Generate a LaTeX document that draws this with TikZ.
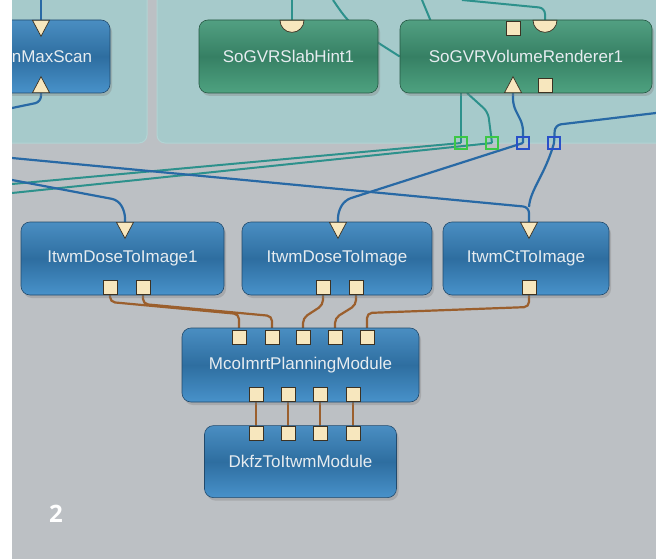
\documentclass[tikz,border=0pt]{standalone}
\usepackage{fontspec}
\setmainfont{Liberation Sans}
\newfontfamily\numfont{Open Sans}
\usetikzlibrary{shapes.geometric, shadows, positioning}
\pgfdeclarelayer{panels}
\pgfdeclarelayer{wires}
\pgfsetlayers{panels,wires,main}
\definecolor{bgray}{RGB}{188,192,196}
\definecolor{panel}{RGB}{166,202,203}
\definecolor{paneledge}{RGB}{178,212,212}
\definecolor{bluetop}{RGB}{74,142,194}
\definecolor{bluemid}{RGB}{46,110,160}
\definecolor{bluebot}{RGB}{72,146,202}
\definecolor{blueedge}{RGB}{34,74,108}
\definecolor{greentop}{RGB}{82,160,130}
\definecolor{greenmid}{RGB}{54,128,100}
\definecolor{greenbot}{RGB}{78,162,128}
\definecolor{greenedge}{RGB}{38,88,68}
\definecolor{modtext}{RGB}{230,236,240}
\definecolor{portfill}{RGB}{247,231,190}
\definecolor{portedge}{RGB}{60,50,35}
\definecolor{wirebrown}{RGB}{155,95,45}
\definecolor{wireblue}{RGB}{40,105,165}
\definecolor{wireteal}{RGB}{45,145,140}
\definecolor{tapgreen}{RGB}{60,200,70}
\definecolor{tapblue}{RGB}{40,80,200}

\begin{document}
\begin{tikzpicture}[
    x=1pt, y=-1pt,
    module/.style={rectangle, rounded corners=9pt, line width=0.6pt,
                   minimum height=73pt, inner sep=0pt, text=modtext,
                   font=\fontsize{17}{20}\selectfont,
                   drop shadow={shadow xshift=2pt, shadow yshift=-3pt, opacity=0.35}},
    bluemod/.style={module, draw=blueedge, top color=bluetop,
                    bottom color=bluebot, middle color=bluemid},
    greenmod/.style={module, draw=greenedge, top color=greentop,
                     bottom color=greenbot, middle color=greenmid},
    sqport/.style={rectangle, draw=portedge, fill=portfill, line width=0.7pt,
                   minimum size=14pt, inner sep=0pt},
    inport/.style={isosceles triangle, isosceles triangle stretches,
                   shape border rotate=-90, minimum width=17pt, minimum height=16pt,
                   draw=portedge, fill=portfill, line width=0.7pt, inner sep=0pt,
                   anchor=lower side},
    outport/.style={inport, shape border rotate=90},
    dport/.style={semicircle, shape border rotate=180, minimum width=21pt,
                  minimum height=12pt, draw=portedge, fill=portfill,
                  line width=0.7pt, inner sep=0pt, anchor=chord center},
    tapg/.style={rectangle, draw=tapgreen, line width=1.5pt, minimum size=12pt, inner sep=0pt},
    tapb/.style={tapg, draw=tapblue},
    wire/.style={draw=wirebrown, line width=2.2pt, rounded corners=5pt},
    bluewire/.style={draw=wireblue, line width=2.2pt, rounded corners=6pt},
    tealwire/.style={draw=wireteal, line width=2pt, rounded corners=6pt}
  ]
    \useasboundingbox (0,0) rectangle (660,559);

    % background and network panels
    \begin{pgfonlayer}{panels}
      \fill[bgray] (12,0) rectangle (656,559);
      \filldraw[fill=panel, draw=paneledge, line width=1pt, rounded corners=8pt] (0,-10) rectangle (147,143);
      \filldraw[fill=panel, draw=paneledge, line width=1pt, rounded corners=8pt] (157,-10) rectangle (670,143);
    \end{pgfonlayer}

    % modules
    \node[bluemod, minimum width=116pt] (mmx) at (52,56.5) {nMaxScan};
    \node[greenmod, minimum width=179pt] (slab) at (288.5,56.5) {SoGVRSlabHint1};
    \node[greenmod, minimum width=252pt] (vr) at (526,56.5) {SoGVRVolumeRenderer1};
    \node[bluemod, minimum width=203pt] (dose1) at (122.5,258.5) {ItwmDoseToImage1};
    \node[bluemod, minimum width=190pt] (dose) at (337,258.5) {ItwmDoseToImage};
    \node[bluemod, minimum width=166pt] (ct) at (526,258.5) {ItwmCtToImage};
    \node[bluemod, minimum width=237pt, minimum height=74pt] (plan) at (300.5,365) {McoImrtPlanningModule};
    \node[bluemod, minimum width=192pt, minimum height=72pt, below=23pt of plan] (dkfz) {DkfzToItwmModule};

    % ports
    \node[inport] (mxin) at (41,20) {};
    \node[outport] (mxout) at (41,93) {};
    \node[dport] (slin) at (292,20) {};
    \node[sqport] (vrin1) at (513,28.5) {};
    \node[dport] (vrin2) at (545,20) {};
    \node[outport] (vrout1) at (513,93) {};
    \node[sqport] (vrout2) at (545,85) {};
    \node[tapg] (g1) at (461,143) {};
    \node[tapg] (g2) at (492,143) {};
    \node[tapb] (b1) at (523,143) {};
    \node[tapb] (b2) at (554,143) {};
    \node[inport] (d1in) at (125,222) {};
    \node[sqport] (d1o1) at (110,287.5) {};
    \node[sqport] (d1o2) at (143,287.5) {};
    \node[inport] (doin) at (338,222) {};
    \node[sqport] (doo1) at (323,287.5) {};
    \node[sqport] (doo2) at (356,287.5) {};
    \node[inport] (ctin) at (529,222) {};
    \node[sqport] (cto) at (529,287.5) {};
    \foreach \x [count=\i] in {239,272,303,335,367}
      \node[sqport] (pin\i) at (\x,337) {};
    \foreach \x [count=\i] in {256,288,320,353} {
      \node[sqport] (pout\i) at (\x,394) {};
      \node[sqport] (kin\i) at (\x,433) {};
    }

    % free ends at the frame
    \coordinate (edgeA) at (12,158);
    \coordinate (edgeB) at (12,180);
    \coordinate (edgeC) at (656,113);
    \coordinate (edgeD) at (41,0);
    \coordinate (edgeE) at (12,108);
    \coordinate (edgeF) at (12,184);
    \coordinate (edgeG) at (12,193);
    \coordinate (edgeH) at (292,0);
    \coordinate (edgeI) at (333,0);
    \coordinate (edgeJ) at (422,0);
    \coordinate (edgeK) at (462,0);
    \coordinate (vrtop) at (432,24);
    \coordinate (vrbot) at (467,93);
    \coordinate (ctjoin) at (529,207);

    \begin{pgfonlayer}{wires}
      % teal links
      \draw[tealwire] (edgeH) -- (slin.chord center);
      \draw[tealwire] (edgeI) .. controls (350,25) .. (vr.west);
      \draw[tealwire] (edgeJ) -- (vrtop);
      \draw[tealwire] (vrin2.chord center) -- (545,8) -- (edgeK);
      \draw[tealwire] (vr.south -| g1) -- (g1.center);
      \draw[tealwire] (vrbot) -- (488,112) -- (g2.center);
      \draw[tealwire] (g1.center) -- (edgeF);
      \draw[tealwire] (g2.center) -- (edgeG);
      % blue links
      \draw[bluewire] (edgeD) -- (mxin.lower side);
      \draw[bluewire] (mxout.lower side) -- (41,102) -- (edgeE);
      \draw[bluewire] (vrout1.lower side) -- (513,105) -- (523,125) -- (b1.center);
      \draw[bluewire] (b2.center) -- (555,125) -- (edgeC);
      \draw[bluewire] (edgeA) -- (ctjoin) -- (ctin.lower side);
      \draw[bluewire] (b2.center) .. controls (545,175) and (530,190) .. (ctjoin);
      \draw[bluewire] (edgeB) -- (118,200) -- (125,212) -- (d1in.lower side);
      \draw[bluewire] (b1.center) -- (345,200) -- (338,212) -- (doin.lower side);
      % brown links
      \draw[wire] (d1o1.south) -- (110,302) -- (239,314) -- (pin1.north);
      \draw[wire] (d1o2.south) -- (143,304) -- (272,316) -- (pin2.north);
      \draw[wire] (doo1.south) -- (323,305) -- (303,318) -- (pin3.north);
      \draw[wire] (doo2.south) -- (356,305) -- (335,318) -- (pin4.north);
      \draw[wire] (cto.south) -- (529,307) -- (367,313) -- (pin5.north);
      \foreach \i in {1,...,4}
        \draw[wire] (pout\i.south) -- (kin\i.north);
    \end{pgfonlayer}

    \node[text=white, font=\numfont\bfseries\fontsize{24}{24}\selectfont] (fig) at (56,514) {2};

    % white frame strips
    \fill[white] (0,0) rectangle (12,559);
    \fill[white] (656,0) rectangle (660,559);
\end{tikzpicture}
\end{document}
